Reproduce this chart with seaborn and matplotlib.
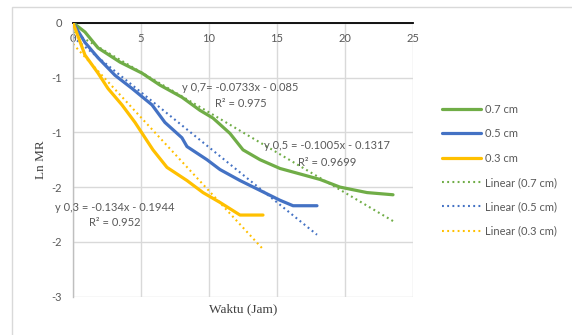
import numpy as np
import pandas as pd
import matplotlib
matplotlib.use("Agg")
import matplotlib.pyplot as plt
import seaborn as sns
from matplotlib.patches import Rectangle

# Drying time (hours) and ln MR for each slice thickness
t_07 = [0, 0.88, 1.84, 3.46, 5.07, 6.40, 8.01, 9.34, 10.29, 11.54, 12.5, 13.75,
        15.22, 16.69, 18.16, 19.63, 21.62, 23.53]
lnmr_07 = [0, -0.085, -0.23, -0.36, -0.46, -0.57, -0.68, -0.80, -0.87, -1.01, -1.16,
           -1.25, -1.33, -1.38, -1.43, -1.50, -1.55, -1.57]

t_05 = [0, 0.88, 1.84, 3.09, 4.34, 5.81, 6.76, 8.01, 8.38, 9.85, 10.81, 12.28,
        13.75, 15.22, 16.18, 17.94]
lnmr_05 = [0, -0.18, -0.32, -0.48, -0.60, -0.75, -0.91, -1.05, -1.13, -1.25, -1.34,
           -1.44, -1.53, -1.62, -1.67, -1.67]

t_03 = [0, 0.88, 1.84, 2.57, 3.60, 4.56, 5.51, 5.88, 6.91, 8.38, 9.56, 10.81,
        12.28, 13.53, 13.97]
lnmr_03 = [0, -0.295, -0.46, -0.60, -0.75, -0.91, -1.09, -1.16, -1.32, -1.44, -1.55,
           -1.64, -1.755, -1.755, -1.755]

series_labels = ["0.7 cm", "0.5 cm", "0.3 cm"]
series_colors = ["#70AD47", "#4472C4", "#FFC000"]

# Linear trend lines: y = slope * x + intercept
slopes = [-0.0733, -0.1005, -0.134]
intercepts = [-0.085, -0.1317, -0.1944]
r_squared = [0.975, 0.9699, 0.952]
eq_prefix = ["y 0,7=", "y 0,5 =", "y 0,3 ="]

x_ticks = [0, 5, 10, 15, 20, 25]
y_ticks = [0, -0.5, -1, -1.5, -2, -2.5]
y_tick_labels = ["0", "-1", "-1", "-2", "-2", "-3"]

sns.set_theme(style="white")
plt.rcParams["font.family"] = ["Lato", "DejaVu Sans"]

W, H = 572, 335
fig = plt.figure(figsize=(W / 100, H / 100), dpi=100)
ax = fig.add_axes([73 / W, 1 - 296.7 / H, 340 / W, 274 / H])

# outer chart border
fig.patches.append(Rectangle((12 / W, -0.1), 1.2, 1 - 7 / H + 0.1,
                             transform=fig.transFigure, fill=False,
                             edgecolor="#d9d9d9", lw=1.0, zorder=0))

df = pd.concat([
    pd.DataFrame({"t": t_07, "lnmr": lnmr_07, "size": series_labels[0]}),
    pd.DataFrame({"t": t_05, "lnmr": lnmr_05, "size": series_labels[1]}),
    pd.DataFrame({"t": t_03, "lnmr": lnmr_03, "size": series_labels[2]}),
], ignore_index=True)

ends = [t_07[-1], t_05[-1], t_03[-1]]

for lab, col in zip(series_labels, series_colors):
    sns.lineplot(data=df[df["size"] == lab], x="t", y="lnmr", ax=ax, color=col,
                 lw=2.3, sort=False, estimator=None, label=lab, zorder=3)

for lab, col, m, b, xe in zip(series_labels, series_colors, slopes, intercepts, ends):
    xs = np.array([0.0, xe])
    sns.lineplot(x=xs, y=m * xs + b, ax=ax, color=col, lw=1.5,
                 dashes=False, label=f"Linear ({lab})", zorder=2)
    ax.lines[-1].set_linestyle((0, (0.9, 1.6)))

ax.set_xlim(0, 25)
ax.set_ylim(-2.5, 0)
ax.set_xticks(x_ticks)
ax.set_xticklabels([str(v) for v in x_ticks])
ax.set_yticks(y_ticks)
ax.set_yticklabels(y_tick_labels)
ax.grid(True, color="#d9d9d9", lw=1.0)
ax.set_axisbelow(True)

ax.tick_params(axis="x", top=False, bottom=False, labeltop=True, labelbottom=False,
               pad=-15, length=0, labelsize=8, labelcolor="#595959")
ax.tick_params(axis="y", left=False, length=0, pad=8, labelsize=8, labelcolor="#595959")

for side in ["right", "bottom"]:
    ax.spines[side].set_visible(False)
ax.spines["top"].set_color("black")
ax.spines["top"].set_linewidth(1.3)
ax.spines["left"].set_color("#bfbfbf")
ax.spines["left"].set_linewidth(1.0)

ax.set_xlabel("Waktu (Jam)", family="Liberation Serif", fontsize=9.5,
              color="#404040", labelpad=5)
ax.set_ylabel("Ln MR", family="Liberation Serif", fontsize=9.5,
              color="#404040", labelpad=3)

# trend line equations
eq_pos = [(12.32, -0.587, -0.733), (18.71, -1.116, -1.271), (3.05, -1.69, -1.827)]
for pre, m, b, r2, (x, y1, y2) in zip(eq_prefix, slopes, intercepts, r_squared, eq_pos):
    ax.text(x, y1, f"{pre} {m}x - {abs(b)}", ha="center", va="center",
            fontsize=8, color="#595959", zorder=5)
    ax.text(x, y2, f"R² = {r2}", ha="center", va="center",
            fontsize=8, color="#595959", zorder=5)

handles, labels = ax.get_legend_handles_labels()
leg = ax.legend(handles, labels, loc="upper left",
                bbox_to_anchor=(442 / W, 1 - 104 / H), bbox_transform=fig.transFigure,
                frameon=False, fontsize=8, handlelength=3.5, handletextpad=0.4,
                labelspacing=1.2, borderpad=0, borderaxespad=0)
for t in leg.get_texts():
    t.set_color("#595959")

fig.savefig("out.png", dpi=100, facecolor="white")
